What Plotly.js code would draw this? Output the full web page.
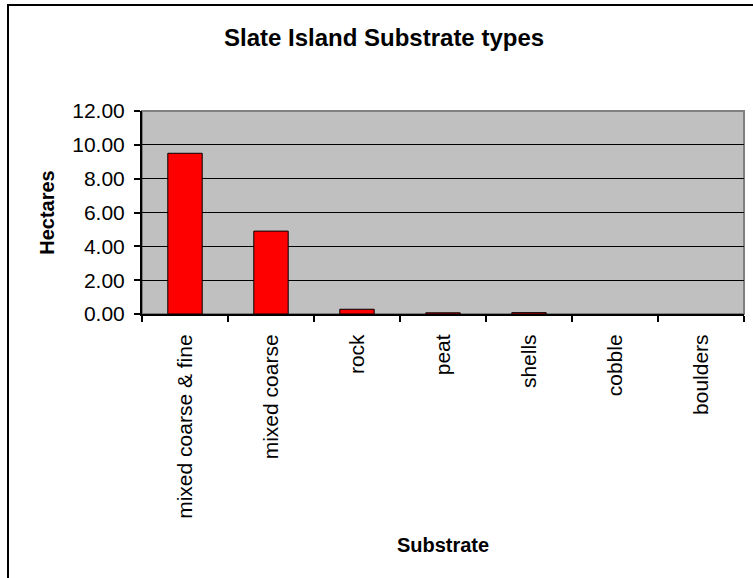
<!DOCTYPE html>
<html>
<head>
<meta charset="utf-8">
<script src="https://cdn.plot.ly/plotly-3.0.1.min.js"></script>
<style>
  html, body { margin: 0; padding: 0; background: #fff; overflow: hidden; }
  #chart { position: absolute; left: 0; top: 0; width: 753px; height: 578px; }
  #frame { position: absolute; left: 7px; top: 4px; width: 800px; height: 700px;
           border: 2px solid #000; pointer-events: none; box-sizing: border-box; }
</style>
</head>
<body>
<div id="chart"></div>
<div id="frame"></div>
<script>
const categories = ["mixed coarse & fine", "mixed coarse", "rock", "peat", "shells", "cobble", "boulders"];
const hectares = [9.5, 4.9, 0.28, 0.07, 0.08, 0.0, 0.0];
const yTicks = [0, 2, 4, 6, 8, 10, 12];

const font = "Liberation Sans, Arial, sans-serif";

const trace = {
  type: "bar",
  x: categories,
  y: hectares,
  width: 0.4,
  marker: {
    color: "#FF0000",
    line: { color: "#000000", width: hectares.map(v => (v > 0 ? 1 : 0)) }
  },
  hoverinfo: "x+y"
};

const layout = {
  width: 753,
  height: 578,
  margin: { l: 142, r: 9, t: 111, b: 264 },
  paper_bgcolor: "#FFFFFF",
  plot_bgcolor: "#C0C0C0",
  showlegend: false,
  bargap: 0.6,
  font: { family: font, color: "#000", size: 21 },
  title: {
    text: "<b>Slate Island Substrate types</b>",
    font: { family: font, size: 24, color: "#000" },
    x: 0.51, xanchor: "center",
    y: 1 - 38 / 578, yanchor: "middle"
  },
  xaxis: {
    type: "category",
    tickangle: -90,
    ticks: "outside",
    tickson: "boundaries",
    ticklen: 6,
    tickwidth: 2,
    tickcolor: "#000",
    ticklabelstandoff: 10,
    showline: true,
    linecolor: "#000",
    linewidth: 2,
    showgrid: false,
    zeroline: false,
    tickfont: { family: font, size: 21, color: "#000" },
    automargin: false,
    title: { text: "<b>Substrate</b>", font: { family: font, size: 20, color: "#000" }, standoff: 20 }
  },
  yaxis: {
    range: [0, 12],
    tickvals: yTicks,
    tickformat: ".2f",
    ticks: "outside",
    ticklen: 6,
    tickwidth: 2,
    tickcolor: "#000",
    ticklabelstandoff: 5,
    showline: true,
    linecolor: "#000",
    linewidth: 2,
    showgrid: true,
    gridcolor: "#000",
    gridwidth: 1,
    zeroline: false,
    tickfont: { family: font, size: 21, color: "#000" },
    automargin: false,
    title: { text: "<b>Hectares</b>", font: { family: font, size: 20, color: "#000" }, standoff: 12 }
  },
  shapes: [{
    type: "rect", xref: "paper", yref: "paper", x0: 0, x1: 1, y0: 0, y1: 1,
    line: { color: "#808080", width: 2 }, fillcolor: "rgba(0,0,0,0)", layer: "below"
  }]
};

Plotly.newPlot("chart", [trace], layout, { displayModeBar: false, staticPlot: true });
</script>
</body>
</html>
